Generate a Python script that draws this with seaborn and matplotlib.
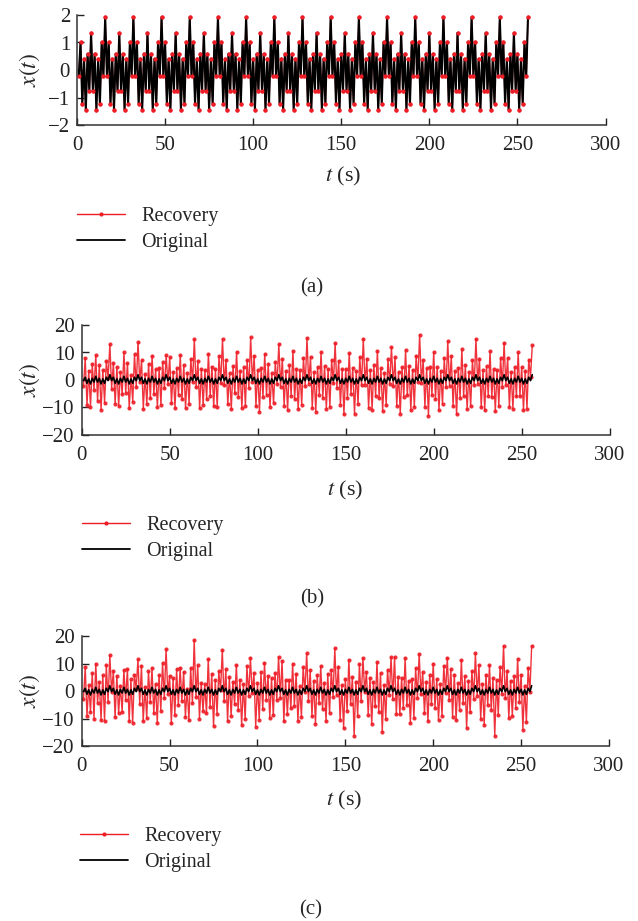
import matplotlib
matplotlib.use('Agg')
import matplotlib.pyplot as plt
import seaborn as sns
from matplotlib.lines import Line2D

# ---------------- data ----------------
time_s = list(range(1, 257))

original = [
    -0.22, 1.00, -1.22, 0.41, -1.44, 0.59, -0.75, 1.35, -0.75, 0.59, -1.44, 0.41, -1.22, 1.00, -0.22, 1.92,
    -0.22, 1.00, -1.22, 0.41, -1.44, 0.59, -0.75, 1.35, -0.75, 0.59, -1.44, 0.41, -1.22, 1.00, -0.22, 1.92,
    -0.22, 1.00, -1.22, 0.41, -1.44, 0.59, -0.75, 1.35, -0.75, 0.59, -1.44, 0.41, -1.22, 1.00, -0.22, 1.92,
    -0.22, 1.00, -1.22, 0.41, -1.44, 0.59, -0.75, 1.35, -0.75, 0.59, -1.44, 0.41, -1.22, 1.00, -0.22, 1.92,
    -0.22, 1.00, -1.22, 0.41, -1.44, 0.59, -0.75, 1.35, -0.75, 0.59, -1.44, 0.41, -1.22, 1.00, -0.22, 1.92,
    -0.22, 1.00, -1.22, 0.41, -1.44, 0.59, -0.75, 1.35, -0.75, 0.59, -1.44, 0.41, -1.22, 1.00, -0.22, 1.92,
    -0.22, 1.00, -1.22, 0.41, -1.44, 0.59, -0.75, 1.35, -0.75, 0.59, -1.44, 0.41, -1.22, 1.00, -0.22, 1.92,
    -0.22, 1.00, -1.22, 0.41, -1.44, 0.59, -0.75, 1.35, -0.75, 0.59, -1.44, 0.41, -1.22, 1.00, -0.22, 1.92,
    -0.22, 1.00, -1.22, 0.41, -1.44, 0.59, -0.75, 1.35, -0.75, 0.59, -1.44, 0.41, -1.22, 1.00, -0.22, 1.92,
    -0.22, 1.00, -1.22, 0.41, -1.44, 0.59, -0.75, 1.35, -0.75, 0.59, -1.44, 0.41, -1.22, 1.00, -0.22, 1.92,
    -0.22, 1.00, -1.22, 0.41, -1.44, 0.59, -0.75, 1.35, -0.75, 0.59, -1.44, 0.41, -1.22, 1.00, -0.22, 1.92,
    -0.22, 1.00, -1.22, 0.41, -1.44, 0.59, -0.75, 1.35, -0.75, 0.59, -1.44, 0.41, -1.22, 1.00, -0.22, 1.92,
    -0.22, 1.00, -1.22, 0.41, -1.44, 0.59, -0.75, 1.35, -0.75, 0.59, -1.44, 0.41, -1.22, 1.00, -0.22, 1.92,
    -0.22, 1.00, -1.22, 0.41, -1.44, 0.59, -0.75, 1.35, -0.75, 0.59, -1.44, 0.41, -1.22, 1.00, -0.22, 1.92,
    -0.22, 1.00, -1.22, 0.41, -1.44, 0.59, -0.75, 1.35, -0.75, 0.59, -1.44, 0.41, -1.22, 1.00, -0.22, 1.92,
    -0.22, 1.00, -1.22, 0.41, -1.44, 0.59, -0.75, 1.35, -0.75, 0.59, -1.44, 0.41, -1.22, 1.00, -0.22, 1.92,
]

# panel (a): recovery coincides with the original
recovery_a = list(original)

recovery_b = [
    -2.2, 7.9, -9.1, 3.4, -9.7, 5.7, -3.6, 9.1, -7.5, 5.3, -10.9, 3.6, -8.2, 7.0, 0.6, 13.0,
    -3.1, 6.2, -8.7, 4.8, -9.5, 2.9, -5.2, 10.0, -4.6, 6.1, -10.3, 1.8, -7.9, 9.4, -2.5, 13.9,
    -0.8, 7.1, -10.5, 2.2, -8.8, 5.9, -6.6, 8.8, -5.1, 3.9, -10.0, 4.4, -9.0, 6.5, -2.9, 9.0,
    -1.5, 8.3, -8.5, 3.0, -10.1, 4.2, -5.4, 9.0, -7.0, 5.6, -10.3, 2.7, -8.6, 7.7, -0.9, 14.8,
    -2.6, 6.9, -10.3, 4.1, -9.2, 3.6, -6.8, 9.5, -5.7, 4.9, -9.6, 3.9, -10.0, 8.6, -1.2, 15.0,
    -1.9, 7.4, -8.9, 2.5, -10.5, 5.1, -4.9, 10.3, -6.3, 3.4, -10.2, 4.6, -9.4, 7.2, -3.0, 15.5,
    -0.7, 8.8, -9.6, 3.7, -11.5, 4.5, -6.2, 9.5, -5.5, 5.8, -9.9, 2.4, -8.5, 6.4, -1.6, 13.0,
    -2.4, 7.6, -9.3, 3.2, -11.0, 5.3, -5.8, 10.5, -6.9, 4.1, -10.6, 3.5, -9.1, 8.1, -2.2, 15.3,
    -1.3, 8.5, -10.1, 2.8, -11.5, 4.8, -5.3, 10.1, -6.4, 5.0, -10.4, 4.0, -9.7, 7.3, -1.1, 13.3,
    -2.8, 7.0, -9.0, 3.9, -12.5, 4.0, -6.5, 9.8, -5.0, 4.4, -12.3, 3.1, -8.8, 8.4, -2.0, 15.0,
    -1.7, 7.8, -10.2, 3.5, -10.8, 5.5, -5.9, 10.6, -6.6, 4.3, -11.2, 2.6, -9.2, 7.5, -1.4, 12.0,
    -2.3, 8.2, -9.5, 2.9, -12.3, 4.6, -6.1, 10.9, -5.6, 5.2, -10.9, 3.8, -9.9, 8.9, -0.6, 16.5,
    -1.0, 7.3, -9.8, 4.2, -13.0, 4.9, -5.5, 10.2, -6.8, 4.6, -11.0, 3.3, -8.9, 7.9, -2.6, 14.0,
    -2.1, 8.7, -9.4, 3.1, -12.5, 4.4, -6.4, 11.2, -5.9, 5.4, -10.7, 2.9, -9.6, 7.1, -1.8, 15.0,
    -1.4, 7.7, -10.0, 3.6, -11.0, 5.0, -5.7, 10.4, -6.2, 4.0, -11.3, 3.7, -9.3, 8.0, -2.4, 13.5,
    -2.0, 8.1, -9.7, 3.0, -10.5, 4.7, -6.0, 10.0, -5.8, 4.8, -11.0, 3.4, -10.5, 7.4, 1.0, 12.6,
]

recovery_c = [
    -3.0, 8.7, -9.0, 2.1, -7.6, 6.4, -10.0, 10.0, -4.2, 3.3, -10.5, 5.8, -10.8, 9.5, -3.9, 13.0,
    -0.4, 7.2, -9.6, 5.5, -8.1, 2.0, -7.5, 7.6, -3.4, 8.0, -11.0, 4.3, -11.5, 6.0, 0.8, 11.5,
    -4.6, 9.1, -11.0, 1.5, -9.9, 7.2, -4.1, 8.3, -8.0, 2.6, -11.5, 5.9, -7.2, 10.2, -2.7, 15.3,
    -1.1, 5.6, -11.7, 4.7, -8.6, 7.9, -5.2, 8.5, -3.6, 7.0, -9.4, 0.9, -10.7, 8.4, -4.5, 18.6,
    -2.2, 9.3, -10.0, 3.0, -7.4, 2.4, -8.1, 11.8, -5.9, 6.2, -12.8, 3.9, -8.3, 7.1, 0.2, 15.0,
    -3.5, 7.9, -11.0, 5.2, -9.1, 3.4, -4.8, 9.6, -7.0, 4.1, -12.5, 2.5, -10.3, 9.0, -1.7, 12.0,
    -0.9, 6.4, -13.0, 2.8, -10.4, 6.8, -6.7, 10.3, -3.1, 5.5, -9.8, 4.7, -8.9, 6.6, -3.3, 12.5,
    -2.5, 11.0, -11.0, 4.0, -8.4, 3.9, -6.3, 10.0, -5.4, 6.3, -10.9, 1.8, -9.5, 8.8, -0.5, 13.8,
    -3.8, 7.5, -9.1, 3.6, -12.0, 5.7, -4.4, 9.1, -6.5, 2.9, -11.0, 6.1, -8.0, 7.7, -2.1, 15.5,
    -1.6, 8.9, -10.6, 2.2, -13.5, 4.5, -7.3, 11.4, -4.7, 5.1, -16.3, 3.4, -9.2, 9.7, -3.6, 12.0,
    -0.3, 6.9, -8.7, 4.9, -12.0, 3.1, -5.6, 10.6, -7.7, 6.6, -15.0, 2.3, -10.1, 7.8, -1.3, 12.3,
    -2.9, 12.5, -8.5, 5.0, -8.5, 4.8, -6.0, 12.0, -5.0, 3.7, -11.6, 4.2, -9.8, 8.2, -2.4, 13.5,
    -1.2, 7.0, -8.0, 3.3, -10.9, 5.9, -4.6, 10.0, -6.1, 4.4, -10.5, 2.7, -9.0, 9.2, -0.7, 12.0,
    -3.2, 8.0, -9.3, 6.0, -10.5, 2.8, -6.9, 11.1, -4.3, 5.3, -13.5, 3.5, -7.8, 7.4, -2.8, 13.7,
    -1.8, 9.4, -10.2, 2.6, -12.2, 6.0, -5.1, 9.3, -6.8, 4.6, -16.3, 4.1, -8.7, 8.6, -1.0, 16.5,
    -2.6, 7.3, -9.9, 3.8, -9.0, 5.4, -6.2, 11.7, -3.9, 5.9, -14.0, 2.0, -11.3, 8.5, -0.4, 16.5,
]

series_names = ['Recovery', 'Original']
panel_labels = ['(a)', '(b)', '(c)']
x_ticks = [0, 50, 100, 150, 200, 250, 300]
y_ticks_a = [-2, -1, 0, 1, 2]
y_ticks_bc = [-20, -10, 0, 10, 20]

# ---------------- style ----------------
sns.set_theme(style='ticks')
plt.rcParams['font.family'] = ['Liberation Serif', 'DejaVu Serif']
plt.rcParams['mathtext.fontset'] = 'stix'

RED = '#ee1c25'
W, H = 638, 921
fig = plt.figure(figsize=(W / 100, H / 100), dpi=100)


def rect(l, r, top, bot):
    return [l / W, 1 - bot / H, (r - l) / W, (bot - top) / H]


def fpos(x, y):
    return (x / W, 1 - y / H)


panels = [
    dict(rec=recovery_a, rect=rect(77, 605.5, 15, 125), ylim=(-2, 2), yt=y_ticks_a,
         ylab=(30, 70), xlab=(343, 176), leg=(77, 221), cap=(312, 288), top_red=True),
    dict(rec=recovery_b, rect=rect(81.7, 609.7, 325, 435), ylim=(-20, 20), yt=y_ticks_bc,
         ylab=(30, 380), xlab=(345, 490), leg=(82, 530), cap=(312, 599), top_red=False),
    dict(rec=recovery_c, rect=rect(81.7, 609, 636, 746), ylim=(-20, 20), yt=y_ticks_bc,
         ylab=(30, 691), xlab=(344, 800), leg=(80, 841), cap=(311, 910), top_red=False),
]

for i, p in enumerate(panels):
    ax = fig.add_axes(p['rect'])
    sns.lineplot(x=time_s, y=p['rec'], ax=ax, color=RED, lw=1.0, marker='o',
                 markersize=3, markeredgewidth=0, estimator=None, sort=False, alpha=0.9)
    sns.lineplot(x=time_s, y=original, ax=ax, color='black',
                 lw=1.5 if p['top_red'] else 1.2, estimator=None, sort=False)
    if p['top_red']:
        sns.scatterplot(x=time_s, y=p['rec'], ax=ax, color=RED, s=9, linewidth=0, zorder=5)
    ax.set_xlim(0, 300)
    ax.set_ylim(*p['ylim'])
    ax.set_xticks(x_ticks)
    ax.set_yticks(p['yt'])
    ax.set_yticklabels([("\u2212" + str(abs(v))) if v < 0 else str(v) for v in p['yt']])
    ax.tick_params(direction='in', length=5, width=1, labelsize=15, colors='#222222')
    ax.tick_params(axis='x', pad=8)
    ax.tick_params(axis='y', pad=5)
    for s in ['top', 'right']:
        ax.spines[s].set_visible(False)
    for s in ['left', 'bottom']:
        ax.spines[s].set_linewidth(1.1)
        ax.spines[s].set_color('#333333')
    ax.set_xlabel('')
    ax.set_ylabel('')
    if ax.get_legend():
        ax.get_legend().remove()

    fig.text(*fpos(*p['ylab']), '$x(t)$', rotation=90, ha='center', va='center', fontsize=17)
    fig.text(*fpos(*p['xlab']), '$t$ (s)', ha='center', va='center', fontsize=16)
    fig.text(*fpos(*p['cap']), panel_labels[i], ha='center', va='center', fontsize=15)

    handles = [Line2D([0], [0], color=RED, lw=1.0, marker='o', markersize=3, markeredgewidth=0),
               Line2D([0], [0], color='black', lw=1.3)]
    lx, ly = p['leg']
    fig.legend(handles, series_names, loc='upper left', bbox_to_anchor=fpos(lx, ly - 14),
               frameon=False, fontsize=14.5, handlelength=2.4, handletextpad=0.8,
               labelspacing=0.35, borderpad=0, borderaxespad=0, numpoints=1)

fig.savefig('out.png', dpi=100)
